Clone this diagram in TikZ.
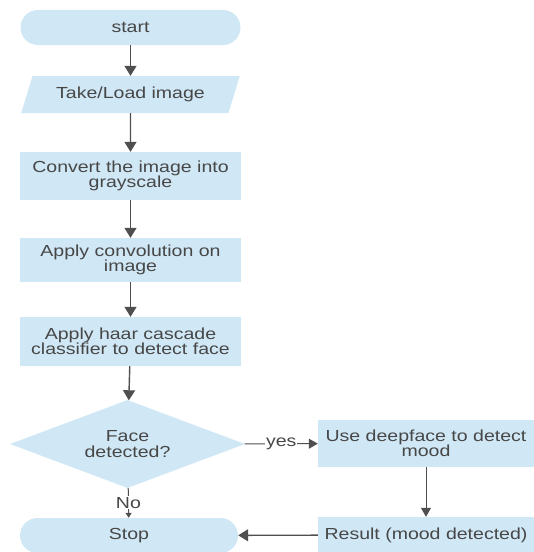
\documentclass[tikz,border=0pt]{standalone}
\usepackage{fontspec}
\setmainfont{Liberation Sans}[FakeStretch=1.22]
\usetikzlibrary{arrows.meta,shapes.geometric}

\definecolor{boxblue}{HTML}{D0E7F5}
\definecolor{txtgray}{HTML}{474747}
\definecolor{linegray}{HTML}{4F4F4F}

\tikzset{
  base/.style={fill=boxblue, text=txtgray, align=center, inner sep=2pt,
    font=\fontsize{16}{15.5}\selectfont},
  term/.style={base, rectangle, rounded corners=17.5pt, minimum width=220pt, minimum height=35pt},
  io/.style={base, trapezium, trapezium left angle=65, trapezium right angle=115,
    trapezium stretches=true, minimum width=219pt, minimum height=37pt},
  proc/.style={base, rectangle, minimum width=221pt},
  decide/.style={base, diamond, aspect=2.67, minimum width=235pt, minimum height=88pt, inner sep=0pt},
  flow/.style={draw=linegray, line width=1.4pt, -{Triangle[width=12pt,length=10pt]}},
  thinflow/.style={draw=linegray, line width=1pt, -{Triangle[width=10pt,length=9pt]}},
  lbl/.style={fill=white, text=txtgray, inner sep=1pt, font=\fontsize{16}{15.5}\selectfont},
}

\begin{document}
\begin{tikzpicture}[x=1pt,y=-1pt]
\useasboundingbox (0,0) rectangle (534,552);

\node[term] (start) at (130.5,27.5) {start};
\node[io] (load) at (130.5,94.5) {Take/Load image};
\node[proc, minimum height=48pt] (gray) at (130.5,176) {Convert the image into\\grayscale};
\node[proc, minimum height=44pt] (conv) at (130.5,260) {Apply convolution on\\image};
\node[proc, minimum height=49pt] (haar) at (130.5,341.5) {Apply haar cascade\\classifier to detect face};

\node[decide] (face) at (127.5,444) {Face\\detected?};
\node[proc, minimum width=216pt, minimum height=47pt] (mood) at (426,443.5) {Use deepface to detect\\mood};
\node[proc, minimum width=216pt, minimum height=36pt] (result) at (426,535) {Result (mood detected)};
\node[term, minimum width=218pt] (stop) at (129,535.5) {Stop};

\draw[flow] (start) -- (load);
\draw[flow] (load) -- (gray);
\draw[flow] (gray) -- (conv);
\draw[flow] (conv) -- (haar);
\draw[flow] (haar) -- (face);

\draw[thinflow] (face) -- node[lbl] {yes} (mood);
\draw[thinflow, -{Triangle[width=6pt,length=5pt]}] (face) -- node[lbl] {No} (stop);
\draw[thinflow] (mood) -- (result);
\draw[flow] (result) -- (stop);

\end{tikzpicture}
\end{document}
